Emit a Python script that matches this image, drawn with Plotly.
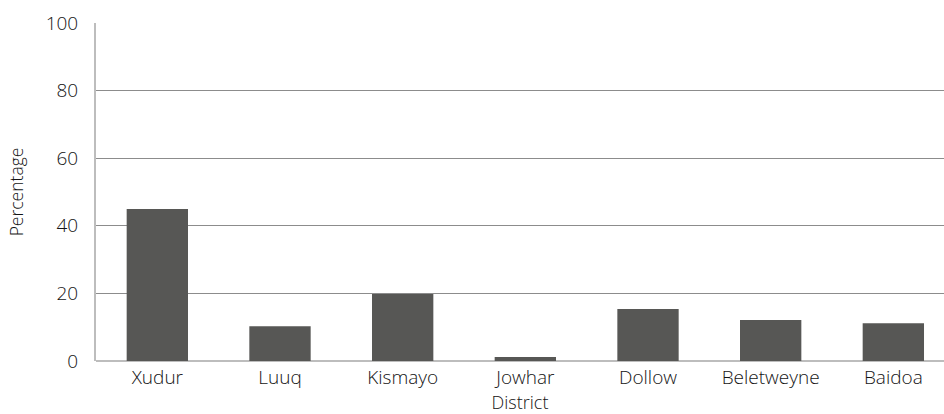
import plotly.graph_objects as go

districts = ["Xudur", "Luuq", "Kismayo", "Jowhar", "Dollow", "Beletweyne", "Baidoa"]
percentages = [45.0, 10.3, 19.8, 1.2, 15.4, 12.1, 11.2]
y_ticks = [0, 20, 40, 60, 80, 100]

fig = go.Figure(go.Bar(
    x=districts, y=percentages, width=0.5,
    marker=dict(color="#575755", line=dict(width=0)),
))

fnt = "Open Sans, sans-serif"
fig.update_layout(
    width=944, height=414,
    margin=dict(l=96, r=0, t=23, b=53),
    paper_bgcolor="white", plot_bgcolor="white",
    font=dict(family=fnt, color="#141414", size=18, weight=300),
    showlegend=False,
    xaxis=dict(
        range=[-0.5, 6.413], showgrid=False, ticks="", showline=False,
        title=dict(text="District", font=dict(size=18, weight=300), standoff=4),
        tickfont=dict(size=19, weight=300), ticklabelstandoff=3,
    ),
    yaxis=dict(
        range=[0, 100], tickvals=y_ticks, showgrid=True, gridcolor="#8c8c8c", gridwidth=1,
        zeroline=True, zerolinecolor="#bdbdbd", zerolinewidth=2,
        showline=True, linecolor="#bdbdbd", linewidth=2,
        ticks="", ticklen=0, tickfont=dict(size=19, weight=300),
        ticklabelstandoff=12,
        title=dict(text="Percentage", font=dict(size=17.5, weight=300), standoff=18),
    ),
)

fig.write_html("out.html")
